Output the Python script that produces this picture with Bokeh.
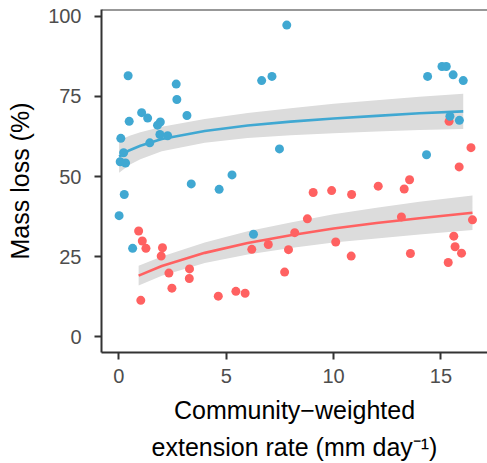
from bokeh.plotting import figure
from bokeh.models import Range1d, Span, LinearAxis
from bokeh.embed import file_html
from bokeh.resources import INLINE

# ---- data ----
blue_x = [0.43, 2.67, 2.70, 3.17, 1.06, 1.34, 0.48, 1.93, 1.80, 0.09, 1.91, 2.27,
          1.44, 0.22, 0.06, 0.31, 3.37, 5.27, 7.82, 6.65, 7.13, 7.48, 14.38, 15.05,
          15.25, 15.57, 16.04, 15.42, 15.86, 14.33, 4.67, 0.25, 0.01, 0.64, 6.27]
blue_y = [81.4, 78.8, 74.0, 69.0, 69.9, 68.2, 67.2, 67.0, 66.0, 61.9, 63.1, 62.7,
          60.5, 57.4, 54.6, 54.2, 47.7, 50.5, 97.2, 79.9, 81.2, 58.6, 81.2, 84.3,
          84.3, 81.7, 79.9, 68.8, 67.5, 56.8, 46.0, 44.4, 37.8, 27.6, 32.0]

red_x = [15.38, 16.40, 15.85, 13.54, 12.08, 13.29, 0.92, 1.09, 1.26, 2.03, 1.97,
         2.33, 3.29, 3.28, 2.47, 1.02, 4.63, 9.05, 9.91, 10.84, 8.78, 8.19, 6.96,
         6.19, 7.90, 10.10, 10.82, 7.72, 5.45, 5.88, 13.16, 16.47, 15.60, 15.66,
         15.96, 15.34, 13.58]
red_y = [67.2, 59.0, 53.0, 49.0, 47.0, 46.1, 33.0, 29.9, 27.6, 27.8, 25.2,
         19.9, 21.2, 18.2, 15.2, 11.4, 12.7, 45.0, 45.6, 44.4, 36.8, 32.5, 28.8,
         27.3, 27.2, 29.6, 25.2, 20.2, 14.2, 13.6, 37.4, 36.5, 31.4, 28.1,
         26.1, 23.2, 26.0]

# fitted curves and confidence bands
blue_fit_x = [0.01, 0.5, 1, 2, 4, 6, 8, 10, 12, 14, 16.04]
blue_fit_y = [56.2, 58.2, 59.6, 61.7, 64.2, 65.9, 67.1, 68.1, 68.9, 69.7, 70.3]
blue_lo = [51.2, 53.7, 55.4, 57.9, 60.5, 62.0, 62.9, 63.5, 64.0, 64.5, 64.8]
blue_hi = [61.2, 62.7, 63.8, 65.5, 67.9, 69.8, 71.3, 72.7, 73.8, 74.9, 75.8]

red_fit_x = [0.92, 2, 4, 6, 8, 10, 12, 14, 16.47]
red_fit_y = [19.1, 22.1, 26.2, 29.3, 31.7, 33.8, 35.5, 37.0, 38.7]
red_lo = [16.0, 19.1, 23.0, 25.7, 27.7, 29.4, 30.7, 31.9, 33.3]
red_hi = [22.2, 25.1, 29.4, 32.9, 35.7, 38.2, 40.3, 42.1, 44.1]

x_ticks = [0, 5, 10, 15]
y_ticks = [0, 25, 50, 75, 100]

x_title_1 = "Community\u2212weighted"
x_title_2 = "extension rate (mm day\u207b\u00b9)"
y_title = "Mass loss (%)"

BLUE = "#40A8D2"
RED = "#FF6161"
BAND = "#DCDCDC"
AX = "#333333"
FONT = "Liberation Sans"

X0, X1 = -0.81, 17.17
Y0, Y1 = -4.86, 102.06

p = figure(width=487, height=463, x_range=Range1d(X0, X1), y_range=Range1d(Y0, Y1),
           output_backend="svg", toolbar_location=None,
           min_border_left=101, min_border_right=0, min_border_top=9, min_border_bottom=110)
p.grid.visible = False
p.outline_line_color = None
p.background_fill_color = "white"
p.border_fill_color = "white"

# bands
p.varea(x=red_fit_x, y1=red_lo, y2=red_hi, fill_color=BAND)
p.varea(x=blue_fit_x, y1=blue_lo, y2=blue_hi, fill_color=BAND)
# lines
p.line(red_fit_x, red_fit_y, line_color=RED, line_width=2.6)
p.line(blue_fit_x, blue_fit_y, line_color=BLUE, line_width=2.6)
# points
p.scatter(red_x, red_y, size=9, fill_color=RED, line_color=None)
p.scatter(blue_x, blue_y, size=9, fill_color=BLUE, line_color=None)

# top border
p.add_layout(Span(location=Y1, dimension="width", line_color=AX, line_width=2))

for ax in (p.xaxis, p.yaxis):
    ax.axis_line_color = AX
    ax.axis_line_width = 2
    ax.major_tick_line_color = AX
    ax.major_tick_line_width = 2
    ax.major_tick_in = 0
    ax.major_tick_out = 7
    ax.minor_tick_line_color = None
    ax.major_label_text_font = FONT
    ax.major_label_text_font_size = "20px"
    ax.major_label_text_color = "#4D4D4D"
    ax.axis_label_text_font = FONT
    ax.axis_label_text_font_size = "25px"
    ax.axis_label_text_font_style = "normal"
    ax.axis_label_text_color = "black"

p.xaxis.ticker = x_ticks
p.yaxis.ticker = y_ticks
p.xaxis.major_label_standoff = 9
p.yaxis.major_label_standoff = 13

p.yaxis.axis_label = y_title
p.yaxis.axis_label_standoff = 11

p.xaxis.axis_label = x_title_1
p.xaxis.axis_label_standoff = 10

# second line of the x title as an extra (tickless) bottom axis
ax2 = LinearAxis(ticker=[], axis_label=x_title_2, axis_line_color=None,
                 major_tick_line_color=None, minor_tick_line_color=None,
                 major_tick_out=0, minor_tick_out=0, major_label_standoff=0,
                 axis_label_standoff=6,
                 axis_label_text_font=FONT, axis_label_text_font_size="25px",
                 axis_label_text_font_style="normal", axis_label_text_color="black")
p.add_layout(ax2, "below")

open("out.html", "w").write(file_html(p, INLINE))
